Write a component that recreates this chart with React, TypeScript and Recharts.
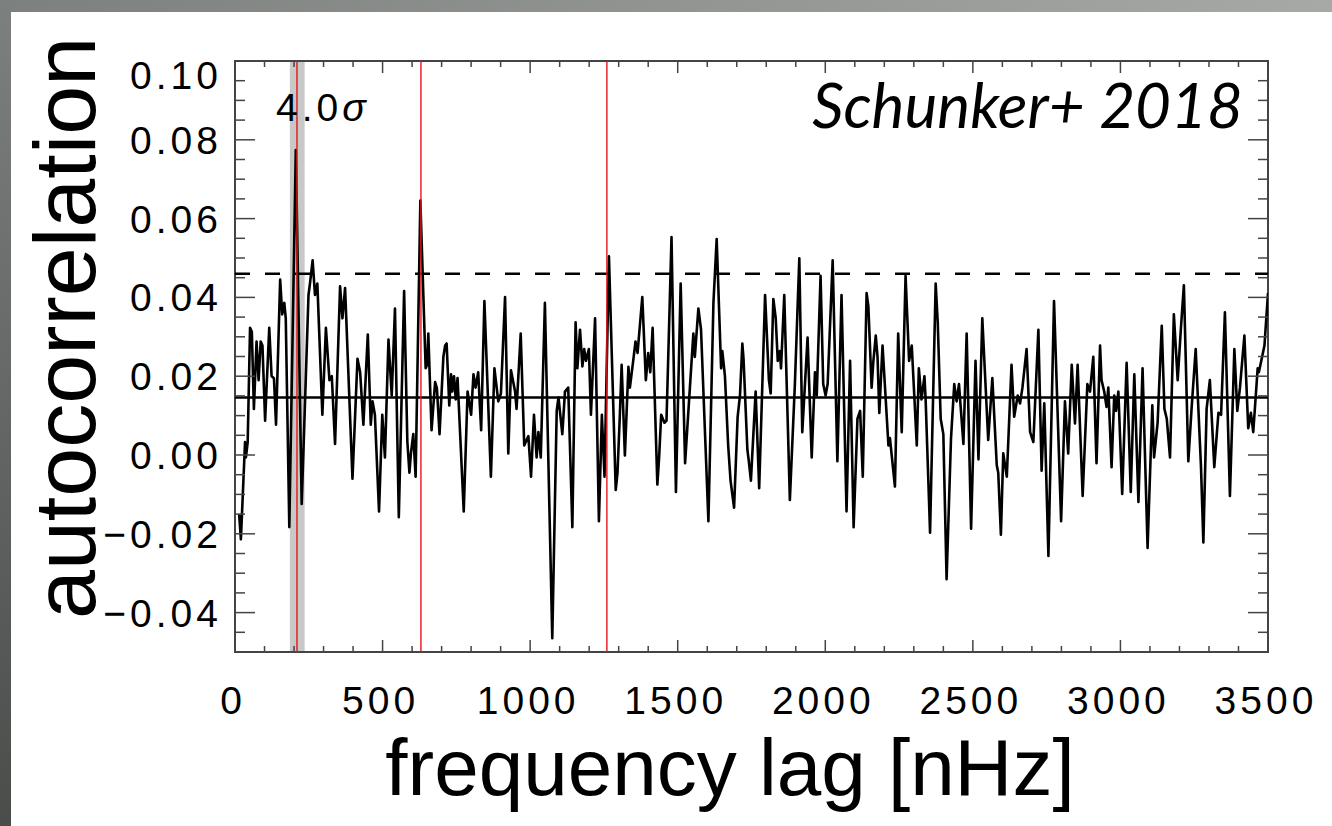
import React from "react";
import { LineChart, Line, XAxis, YAxis, ReferenceLine, ReferenceArea } from "recharts";

// frequency lag [nHz] of each sample (turning points)
const lags = [
  14, 20, 34, 37, 43, 51, 57, 64, 73, 80, 87, 93, 102, 116, 124, 132, 139, 153, 160, 167,
  172, 184, 206, 226, 235, 249, 254, 263, 271, 279, 296, 308, 320, 328, 339, 356, 364, 373, 398, 415,
  424, 435, 450, 460, 466, 474, 488, 499, 508, 520, 531, 542, 555, 573, 584, 591, 596, 604, 612, 628,
  646, 651, 655, 666, 678, 684, 693, 706, 712, 717, 726, 732, 736, 742, 748, 754, 775, 788, 800, 808,
  815, 824, 834, 845, 867, 879, 892, 901, 915, 926, 935, 949, 954, 968, 980, 994, 1003, 1013, 1022, 1028,
  1036, 1050, 1075, 1090, 1096, 1109, 1118, 1129, 1143, 1154, 1160, 1169, 1177, 1183, 1189, 1199, 1206, 1220, 1233, 1243,
  1252, 1267, 1290, 1296, 1304, 1310, 1321, 1333, 1338, 1350, 1357, 1364, 1380, 1392, 1400, 1407, 1415, 1431, 1437, 1444,
  1455, 1462, 1479, 1494, 1510, 1525, 1542, 1553, 1558, 1570, 1579, 1604, 1621, 1632, 1647, 1651, 1660, 1671, 1679, 1691,
  1703, 1711, 1719, 1723, 1736, 1741, 1748, 1764, 1776, 1796, 1809, 1815, 1824, 1832, 1839, 1846, 1850, 1861, 1880, 1897,
  1912, 1922, 1940, 1954, 1965, 1971, 1984, 1993, 2001, 2008, 2025, 2041, 2055, 2072, 2084, 2096, 2109, 2118, 2127, 2140,
  2146, 2157, 2163, 2171, 2177, 2183, 2194, 2214, 2219, 2236, 2247, 2259, 2272, 2284, 2293, 2310, 2317, 2326, 2336, 2340,
  2355, 2374, 2381, 2391, 2400, 2411, 2426, 2437, 2445, 2453, 2468, 2479, 2494, 2509, 2519, 2532, 2552, 2566, 2581, 2586,
  2595, 2603, 2615, 2631, 2640, 2652, 2660, 2668, 2682, 2694, 2705, 2722, 2733, 2742, 2756, 2775, 2799, 2812, 2823, 2835,
  2846, 2855, 2872, 2888, 2897, 2908, 2919, 2931, 2936, 2945, 2953, 2959, 2970, 2979, 2985, 2993, 3006, 3021, 3035, 3047,
  3061, 3075, 3092, 3108, 3114, 3126, 3140, 3149, 3157, 3168, 3181, 3194, 3205, 3215, 3230, 3241, 3255, 3273, 3281, 3292,
  3303, 3318, 3332, 3341, 3354, 3371, 3386, 3396, 3405, 3420, 3433, 3442, 3450, 3465, 3469, 3488, 3500,
];

const acValues = [
  -0.015, -0.0214, 0.0033, -0.0006, 0.0033, 0.0323, 0.0313, 0.0117, 0.0288, 0.019, 0.0288, 0.0278, 0.0087, 0.0323, 0.02, 0.0195, 0.0077, 0.0445, 0.0357, 0.0386,
  0.0347, -0.0183, 0.0774, -0.0124, 0.0082, 0.0406, 0.0435, 0.0494, 0.0406, 0.0435, 0.0102, 0.0323, 0.019, 0.02, 0.0028, 0.0428, 0.0347, 0.0424, -0.006, 0.0244,
  0.021, 0.0077, 0.0306, 0.0077, 0.0136, 0.0102, -0.0143, 0.0102, -0.0006, 0.0293, 0.0151, 0.0372, -0.0158, 0.0416, 0.0033, -0.0045, 0.0004, 0.0053, -0.0055, 0.0646,
  0.022, 0.0229, 0.0308, 0.0063, 0.0185, 0.017, 0.0053, 0.0249, 0.0278, 0.0283, 0.0126, 0.0205, 0.0161, 0.02, 0.0141, 0.0195, -0.0143, 0.0161, 0.0102, 0.0205,
  0.0171, 0.021, 0.0063, 0.0391, -0.0055, 0.022, 0.0136, 0.0156, 0.0401, 0.0004, 0.0215, 0.0161, 0.0117, 0.0308, 0.0024, 0.0048, -0.0055, 0.0102, -0.0006, 0.0058,
  -0.0006, 0.0386, -0.0465, 0.0112, 0.0146, 0.0053, 0.0161, 0.0171, -0.0183, 0.0337, 0.022, 0.0318, 0.0225, 0.0269, 0.0239, 0.0269, 0.0102, 0.0347, -0.0168, 0.0102,
  -0.0055, 0.0504, -0.0089, -0.0045, 0.0102, 0.0229, -0.0001, 0.0224, 0.0171, 0.0244, 0.0288, 0.0259, 0.0401, 0.019, 0.0259, 0.021, 0.0323, -0.0075, -0.0006, 0.0102,
  0.0082, 0.0087, 0.0553, -0.0094, 0.0435, -0.0021, 0.018, 0.0308, 0.0249, 0.0372, 0.0318, -0.0168, 0.0386, 0.0548, 0.022, 0.0264, 0.02, 0.0024, -0.0065, -0.0134,
  0.0097, 0.0151, 0.0283, 0.0244, 0.0014, -0.0016, -0.0065, 0.0161, -0.0084, 0.0406, 0.019, 0.0156, 0.0396, 0.0347, 0.0239, 0.0264, 0.022, 0.0406, -0.0114, 0.018,
  0.0499, 0.0058, 0.0298, -0.0006, 0.021, 0.0151, 0.0455, 0.018, 0.0151, 0.018, 0.0494, -0.0016, 0.0406, -0.0143, 0.0239, -0.0183, 0.0092, 0.0112, -0.0055, 0.0411,
  0.0377, 0.0171, 0.0239, 0.0303, 0.0249, 0.0107, 0.0278, 0.0024, 0.0043, -0.008, 0.0308, 0.0058, 0.0455, 0.0239, 0.0278, 0.0024, 0.022, 0.0141, 0.02, 0.0141,
  -0.0197, 0.0435, 0.0337, 0.0092, 0.0053, -0.0315, 0.0043, 0.018, 0.0136, 0.018, 0.0028, 0.0308, -0.0187, 0.0239, -0.0011, 0.0347, 0.0038, 0.0195, -0.0026, -0.0045,
  -0.0202, 0.0004, -0.0055, 0.0229, 0.0097, 0.0151, 0.0131, 0.0171, 0.0269, 0.0058, 0.0033, 0.0318, -0.004, 0.0131, -0.0256, 0.0391, -0.0168, 0.0136, 0.0004, 0.0229,
  0.008, 0.0229, -0.0104, 0.018, 0.0161, 0.0249, -0.0021, 0.0278, 0.019, 0.0161, 0.0122, 0.0171, -0.0031, 0.0151, 0.0112, 0.0161, -0.0099, 0.0234, -0.0094, 0.0205,
  -0.0119, 0.022, -0.0236, 0.0126, -0.0006, 0.0082, 0.0328, 0.0117, 0.0092, -0.0006, 0.0357, 0.019, 0.0323, 0.0431, -0.0016, 0.0117, 0.0269, -0.0031, -0.0222, 0.0117,
  0.019, -0.0031, 0.0107, 0.0102, 0.0362, -0.0104, 0.0269, 0.0112, 0.0171, 0.0303, 0.0068, 0.0107, 0.0058, 0.022, 0.021, 0.0278, 0.0411,
];

const xMajorTicks = [0, 500, 1000, 1500, 2000, 2500, 3000, 3500];
const xMinorTicks = [
  100, 200, 300, 400, 600, 700, 800, 900, 1100, 1200, 1300, 1400, 1600, 1700, 1800, 1900,
  2100, 2200, 2300, 2400, 2600, 2700, 2800, 2900, 3100, 3200, 3300, 3400,
];
const yMajorTicks = [-0.04, -0.02, 0, 0.02, 0.04, 0.06, 0.08, 0.1];
const yMinorTicks = [
  -0.05, -0.045, -0.035, -0.03, -0.025, -0.015, -0.01, -0.005, 0.005, 0.01, 0.015, 0.025,
  0.03, 0.035, 0.045, 0.05, 0.055, 0.065, 0.07, 0.075, 0.085, 0.09, 0.095,
];

const meanLevel = 0.0146;
const thresholdLevel = 0.046;
const bandLags = [186, 236];
const markerLags = [210, 630, 1260];

const data = lags.map((lag, i) => ({ lag, ac: acValues[i] }));

const W = 1332;
const H = 826;
const M = { top: 61, right: 64, bottom: 114, left: 125 };
const Y_AXIS_W = 110;
const X_AXIS_H = 60;
const PLOT_W = W - M.left - M.right - Y_AXIS_W;
const PLOT_H = H - M.top - M.bottom - X_AXIS_H;

const FRAME = "#444";
const numFont = "'Liberation Sans', Arial, sans-serif";

function XTick(props: any) {
  const { x, y, payload } = props;
  const v = payload.value;
  const major = xMajorTicks.includes(v);
  const len = major ? 12 : 6;
  return (
    <g>
      <line x1={x} y1={y} x2={x} y2={y - len} stroke={FRAME} strokeWidth={1.5} />
      <line x1={x} y1={y - PLOT_H} x2={x} y2={y - PLOT_H + len} stroke={FRAME} strokeWidth={1.5} />
      {major && (
        <text x={x - 2} y={y + 62} textAnchor="middle" fontFamily={numFont} fontSize={39} letterSpacing={4} fill="#000">
          {v}
        </text>
      )}
    </g>
  );
}

function YTick(props: any) {
  const { x, y, payload } = props;
  const v = payload.value;
  const major = yMajorTicks.some((m) => Math.abs(m - v) < 1e-9);
  const len = major ? 20 : 10;
  const label = (v < -1e-9 ? "\u2212" : "") + Math.abs(v).toFixed(2);
  // the top label is pushed down inside the frame
  const shift = v > 0.099 ? 14 : 0;
  return (
    <g>
      <line x1={x} y1={y} x2={x + len} y2={y} stroke={FRAME} strokeWidth={1.5} />
      <line x1={x + PLOT_W} y1={y} x2={x + PLOT_W - len} y2={y} stroke={FRAME} strokeWidth={1.5} />
      {major && (
        <text x={x - 13} y={y + shift + 14} textAnchor="end" fontFamily={numFont} fontSize={39} letterSpacing={4} fill="#000">
          {label}
        </text>
      )}
    </g>
  );
}

export default function App() {
  return (
    <div style={{ position: "absolute", left: 0, top: 0, width: W, height: H, background: "#fff", overflow: "hidden" }}>
      <div style={{ position: "absolute", left: 0, top: 0, width: W, height: 12, background: "linear-gradient(to right, #7c807e, #a6a9a5)" }} />
      <div style={{ position: "absolute", left: 0, top: 0, width: 11, height: H, background: "linear-gradient(to bottom, #7c807e, #4b4d4b)" }} />
      <div style={{ position: "absolute", left: 0, top: 0 }}>
        <LineChart width={W} height={H} data={data} margin={M}>
          <XAxis
            type="number"
            dataKey="lag"
            domain={[0, 3500]}
            ticks={[...xMajorTicks, ...xMinorTicks].sort((a, b) => a - b)}
            interval={0}
            tick={(p: any) => <XTick {...p} />}
            tickLine={false}
            axisLine={false}
            tickSize={0}
            tickMargin={0}
            height={X_AXIS_H}
            allowDataOverflow
          />
          <YAxis
            type="number"
            domain={[-0.05, 0.1]}
            ticks={[...yMajorTicks, ...yMinorTicks].sort((a, b) => a - b)}
            interval={0}
            tick={(p: any) => <YTick {...p} />}
            tickLine={false}
            axisLine={false}
            tickSize={0}
            tickMargin={0}
            width={Y_AXIS_W}
            allowDataOverflow
          />
          <ReferenceArea x1={bandLags[0]} x2={bandLags[1]} y1={-0.05} y2={0.1} fill="#c8c8c8" fillOpacity={1} stroke="none" />
          <ReferenceLine y={meanLevel} stroke="#000" strokeWidth={2.6} />
          <ReferenceLine y={thresholdLevel} stroke="#000" strokeWidth={2.4} strokeDasharray="15 15" />
          <Line type="linear" dataKey="ac" stroke="#000" strokeWidth={2.6} strokeLinejoin="round" dot={false} isAnimationActive={false} />
          {markerLags.map((m) => (
            <ReferenceLine key={m} x={m} stroke="#e8141c" strokeWidth={1.4} />
          ))}
          <ReferenceArea x1={0} x2={3500} y1={-0.05} y2={0.1} fill="none" stroke={FRAME} strokeWidth={2} />
        </LineChart>
      </div>
      <svg width={W} height={H} style={{ position: "absolute", left: 0, top: 0, pointerEvents: "none" }}>
        <text x={276} y={121} fontFamily={numFont} fontSize={39} letterSpacing={4} fill="#000">
          4.0<tspan fontStyle="italic">σ</tspan>
        </text>
        <text x={1243} y={128} textAnchor="end" fontFamily="Lato, 'Open Sans', sans-serif" fontStyle="italic" fontSize={62} fill="#000">
          Schunker+ 2018
        </text>
        <text x={730} y={795} textAnchor="middle" fontFamily={numFont} fontSize={80} fill="#000">
          frequency lag [nHz]
        </text>
        <text x={95} y={328} textAnchor="middle" transform="rotate(-90 95 328)" fontFamily={numFont} fontSize={88} fill="#000">
          autocorrelation
        </text>
      </svg>
    </div>
  );
}
